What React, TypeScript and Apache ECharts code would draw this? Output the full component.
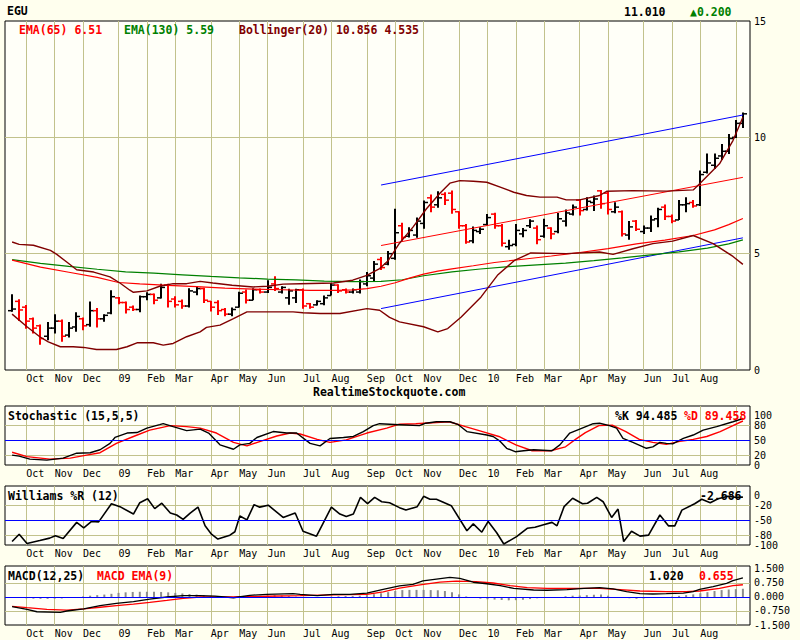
import React, { useEffect, useRef } from 'react';
import * as echarts from 'echarts';

// ---------- weekly categories ----------
const START_UTC = Date.UTC(2008, 8, 22); // Monday of first weekly bar
const WEEK_COUNT = 104;
const MONTH_NAMES = ['Jan', 'Feb', 'Mar', 'Apr', 'May', 'Jun', 'Jul', 'Aug', 'Sep', 'Oct', 'Nov', 'Dec'];

// ---------- price bars (weekly OHLC) ----------
const open = [2.55,2.95,2.70,2.20,1.90,1.45,1.80,2.10,1.50,1.85,2.20,1.95,2.55,2.20,2.45,3.10,2.90,2.70,2.60,3.15,3.25,3.10,3.65,3.05,2.95,2.75,3.35,3.50,2.95,2.90,2.60,2.40,2.70,3.35,3.00,3.45,3.35,3.70,3.35,3.10,3.10,3.45,2.85,2.80,2.85,3.20,3.65,3.45,3.35,3.35,3.70,3.95,4.75,4.55,4.80,6.20,5.75,5.80,6.30,7.40,7.10,7.55,7.60,6.80,6.20,5.55,5.95,6.25,6.70,6.20,5.30,5.40,5.85,6.20,6.10,5.75,6.10,5.95,6.40,6.70,7.30,6.90,7.20,7.70,7.60,6.80,6.80,5.80,6.40,5.95,6.10,6.50,7.00,6.60,6.45,7.10,7.20,7.10,8.50,8.80,9.20,9.40,10.00,10.60];
const high = [3.26,3.04,2.79,2.26,1.96,2.06,2.40,2.17,2.06,2.48,2.26,2.94,2.66,2.40,3.43,3.14,2.94,2.77,3.20,3.34,3.29,3.71,3.71,3.17,3.03,3.51,3.60,3.54,2.97,3.00,2.66,2.69,3.36,3.46,3.51,3.50,3.86,4.03,3.60,3.49,3.49,3.50,2.88,3.00,3.20,3.74,3.69,3.50,3.50,3.89,4.21,4.69,4.86,5.11,6.93,6.33,6.14,6.55,7.29,7.54,7.68,7.64,7.71,6.82,6.27,6.17,6.14,6.70,6.76,6.28,5.60,6.27,6.10,6.48,6.21,6.50,6.14,6.75,6.90,7.11,7.35,7.43,7.50,7.74,7.68,7.21,6.85,6.40,6.45,6.21,6.64,6.97,7.11,6.68,7.31,7.43,7.31,8.57,9.31,9.31,9.71,10.14,10.74,11.07];
const low = [2.50,2.11,1.77,1.57,1.08,1.28,1.57,1.21,1.40,1.64,1.71,1.86,1.83,2.07,2.40,2.83,2.43,2.54,2.48,3.00,2.83,3.07,2.69,2.69,2.63,2.69,3.21,2.88,2.51,2.36,2.31,2.31,2.69,2.86,3.00,3.29,3.31,3.40,3.29,2.80,2.88,2.63,2.63,2.77,2.78,3.20,3.31,3.29,3.29,3.29,3.60,3.83,4.30,4.50,4.74,5.55,5.70,5.68,6.07,6.78,6.97,7.09,6.72,6.07,5.43,5.45,5.84,6.21,6.07,5.31,5.17,5.32,5.71,6.10,5.40,5.68,5.62,5.88,6.17,6.64,6.64,6.85,6.83,6.93,6.68,6.74,5.74,5.60,5.97,5.85,5.93,6.14,6.45,6.31,6.45,6.78,6.97,7.05,8.45,8.64,9.03,9.28,9.97,10.40];
const close = [2.62,2.58,2.10,1.80,1.35,1.80,2.10,1.45,1.80,2.30,1.90,2.55,2.20,2.35,3.15,2.90,2.60,2.60,3.15,3.25,3.00,3.55,2.95,2.80,2.75,3.40,3.50,3.00,2.70,2.55,2.40,2.60,3.30,3.00,3.45,3.35,3.55,3.50,3.55,3.40,3.45,2.75,2.70,2.95,3.10,3.65,3.40,3.35,3.45,3.80,4.05,4.55,4.40,5.00,5.90,5.70,6.00,6.40,7.20,7.00,7.40,7.30,6.90,6.20,5.50,6.00,6.05,6.55,6.20,5.45,5.35,6.00,6.00,6.40,5.60,6.20,5.85,6.50,6.75,7.00,6.85,7.25,7.35,7.15,6.90,7.00,5.85,6.15,6.05,6.10,6.45,6.90,6.60,6.40,7.10,7.15,7.05,8.40,8.90,9.10,9.40,9.95,10.60,11.01];

// ---------- overlays: [week index, value] ----------
const ema65 = [[0,4.72],[4,4.42],[8,4.20],[12,3.98],[15,3.76],[18,3.70],[22,3.64],[26,3.58],[30,3.52],[34,3.48],[38,3.45],[42,3.42],[46,3.42],[48,3.44],[50,3.50],[52,3.60],[54,3.75],[56,3.95],[58,4.12],[60,4.25],[62,4.35],[65,4.48],[68,4.62],[72,4.76],[76,4.90],[80,5.05],[84,5.22],[88,5.42],[92,5.58],[96,5.78],[99,6.02],[101,6.25],[103,6.51]];
const ema130 = [[0,4.74],[4,4.58],[8,4.45],[12,4.33],[16,4.22],[20,4.16],[24,4.09],[28,4.02],[32,3.96],[36,3.91],[40,3.87],[44,3.82],[48,3.80],[52,3.81],[55,3.88],[58,4.05],[62,4.22],[66,4.34],[70,4.44],[74,4.52],[78,4.59],[82,4.70],[86,4.82],[90,4.95],[94,5.08],[98,5.24],[101,5.42],[103,5.59]];
const bbUpper = [[0,5.5],[1,5.4],[3,5.36],[5.4,5.14],[6.3,4.97],[7.7,4.64],[9.1,4.31],[11.5,4.21],[13.8,4.0],[15.2,3.74],[16.6,3.43],[17.1,3.34],[19,3.4],[20.8,3.6],[22.7,3.71],[24.6,3.71],[26.5,3.81],[28.3,3.74],[31,3.64],[34,3.57],[36,3.6],[38.2,3.69],[40.6,3.71],[45.3,3.74],[48,3.86],[50,4.07],[51.8,4.36],[53,4.7],[54.6,5.45],[56.5,6.14],[58.4,6.93],[60.3,7.6],[61.7,8.03],[63.1,8.14],[65,8.11],[66.9,8.07],[68.8,7.86],[70.7,7.64],[72.5,7.5],[74.4,7.43],[76.8,7.43],[78.1,7.31],[80,7.31],[82.8,7.5],[83.8,7.68],[87.5,7.71],[92.2,7.69],[96,7.74],[96.9,8.0],[99.7,8.86],[101.6,9.86],[103,10.86]];
const bbLower = [[0,2.4],[2.1,1.86],[3.9,1.43],[5.1,1.21],[6.8,1.0],[8.6,1.0],[10.1,0.97],[11.9,0.88],[14.7,0.88],[16.2,1.0],[17.6,1.17],[19.9,1.17],[21.3,1.07],[22.7,1.14],[24.6,1.43],[26.5,1.64],[27.4,1.83],[29.3,1.93],[31.2,2.21],[33.1,2.5],[35.9,2.5],[39.6,2.5],[41,2.46],[43.4,2.43],[46.2,2.43],[50,2.64],[51.8,2.57],[53.2,2.26],[54.6,2.07],[58,1.86],[60,1.64],[61.4,1.78],[63.3,2.28],[66.1,3.14],[68.4,4.07],[70.8,4.71],[73.1,5.03],[78.1,5.0],[82.8,5.07],[84.7,4.97],[87.5,5.21],[90.3,5.43],[93.1,5.54],[96,5.78],[98.8,5.43],[101.6,4.88],[103,4.54]];
const channelUpper = [[52,7.95],[103,10.96]];
const channelMid = [[52,5.35],[103,8.28]];
const channelLower = [[52,2.64],[103,5.68]];

const stochK = [[0,20],[1,18],[2.5,12],[4.9,10],[7.2,14],[9.1,24],[11,25],[12.4,31],[13.8,44],[14.5,56],[16.2,65],[17.6,66],[19,75],[20.8,82],[21.3,84],[22.7,78],[24.6,70],[26.5,73],[27.7,65],[29.3,41],[31.2,32],[32.1,41],[33.5,44],[34.5,56],[36.8,68],[38.7,65],[40.1,65],[42,44],[43.4,39],[44.8,54],[46.7,56],[48.1,58],[49.5,68],[50.9,80],[51.8,84],[54.6,82],[57.4,80],[58.3,85],[59.8,88],[61.7,88],[62.9,82],[64.1,68],[66.9,61],[67.8,58],[68.8,48],[69.7,34],[70.9,27],[72.1,29],[73.5,31],[76.1,29],[77.2,41],[78.6,65],[80,73],[81.9,84],[82.8,85],[84.2,80],[85.2,75],[86.1,54],[87.5,46],[89.4,34],[90.3,37],[91.3,46],[92.2,44],[93.1,43],[94.6,54],[96,61],[97.4,71],[99.3,78],[101.6,88],[103,94.5]];
const stochD = [[0,26],[2.1,17],[5.3,12],[8.2,14],[10.5,20],[12.4,25],[14.7,44],[17.1,58],[19.4,71],[22.3,80],[24.6,78],[26.5,75],[28.8,65],[31.2,46],[33.1,39],[35,48],[37.3,59],[39.2,65],[40.6,63],[43,52],[44.8,46],[47.1,51],[50,65],[52.8,75],[54.6,83],[56.9,84],[59.2,86],[61.6,88],[63.9,78],[66.3,68],[68.6,58],[71,41],[73.3,29],[75.9,29],[78,37],[79.4,52],[80.8,66],[82.7,80],[84.6,81],[86.5,68],[88.4,52],[90.3,46],[92.2,42],[94.1,48],[96,52],[97.9,58],[99.8,68],[101.6,80],[103,89.5]];
const williamsR = [[0,-93],[1,-78],[2.1,-97],[3.9,-91],[5.3,-86],[6.1,-81],[7.2,-87],[9.1,-54],[10.1,-65],[11.2,-52],[12.2,-53],[14,-16],[15.2,-22],[17.1,-37],[18,-14],[19.1,-6],[20.1,-26],[21.1,-15],[22.3,-35],[23.2,-39],[24.1,-48],[25.1,-35],[26.2,-23],[27.2,-61],[28.1,-78],[29,-88],[30.7,-80],[31.4,-73],[32.1,-41],[33.1,-49],[34.1,-18],[34.9,-23],[36.1,-19],[38.2,-44],[39.9,-35],[41,-72],[42.9,-82],[43.9,-54],[45,-23],[46.2,-37],[47.1,-42],[48.1,-37],[49.1,-3],[50.1,-16],[51.1,-3],[52.1,-12],[53.2,-14],[54.6,-24],[55.5,-29],[57.1,-22],[58,-1],[58.9,-7],[59.8,-7],[61.9,-20],[64.1,-71],[65,-57],[66.2,-74],[67.1,-52],[68.3,-75],[69.3,-98],[71.1,-83],[72.6,-66],[73.7,-64],[74.9,-59],[76.1,-54],[76.8,-61],[77.8,-22],[79,-5],[80.4,-16],[81.1,-15],[82.4,-3],[83.3,-12],[84.5,-44],[85.4,-27],[86.2,-93],[87.3,-72],[88.5,-82],[89.7,-80],[91.3,-39],[92.5,-61],[93.4,-61],[94.4,-29],[96.2,-16],[97.2,-7],[98.4,-14],[99.5,-6],[100.9,-1],[101.9,-3],[103,-2.7]];
const macdLine = [[0,-0.52],[2.1,-0.66],[3.5,-0.79],[6.8,-0.82],[7.7,-0.75],[10.1,-0.64],[12.4,-0.46],[14.7,-0.34],[17.1,-0.25],[19.4,-0.11],[21.8,0],[24.1,0.07],[26.5,0.07],[28.6,0.05],[31.2,-0.04],[33.5,0.09],[35.9,0.14],[39.6,0.18],[40.6,0.14],[43,0.07],[45.3,0.14],[47.6,0.14],[50,0.21],[52.3,0.41],[54.6,0.6],[56.5,0.68],[57.9,0.86],[59.8,0.96],[61.7,1.05],[63.1,1.0],[65,0.79],[66.9,0.71],[68.8,0.61],[70.7,0.46],[73.5,0.375],[75.4,0.36],[78.2,0.39],[80.6,0.46],[82.8,0.5],[84.7,0.43],[86.6,0.29],[88.5,0.18],[90.3,0.16],[92.2,0.18],[94.6,0.21],[96,0.29],[96.9,0.41],[98.8,0.55],[100.7,0.73],[101.6,0.875],[103,1.02]];
const macdSignal = [[0,-0.5],[2.1,-0.57],[4.9,-0.66],[7.7,-0.7],[10.1,-0.64],[12.4,-0.55],[14.7,-0.46],[17.1,-0.38],[19.4,-0.29],[21.8,-0.18],[24.1,-0.07],[26.5,0],[31.2,0],[35.9,0.04],[40.6,0.07],[45.3,0.11],[50,0.14],[52.3,0.27],[54.6,0.47],[57.5,0.65],[60.3,0.8],[62.6,0.85],[65.4,0.82],[67.8,0.75],[70.2,0.61],[72.6,0.5],[75.4,0.46],[79.1,0.46],[82.8,0.46],[85.7,0.39],[88.5,0.32],[92.2,0.29],[95,0.29],[96.9,0.32],[99.7,0.46],[101.6,0.61],[103,0.655]];
const macdHist = [-0.03,-0.05,-0.07,-0.09,-0.10,-0.10,-0.09,-0.08,-0.05,-0.02,0.03,0.07,0.10,0.13,0.17,0.22,0.25,0.27,0.28,0.28,0.28,0.27,0.25,0.22,0.19,0.16,0.13,0.10,0.07,0.03,-0.02,-0.03,0.02,0.04,0.06,0.07,0.09,0.10,0.08,0.05,0.02,-0.02,-0.05,-0.05,-0.02,0.02,0.04,0.05,0.05,0.07,0.10,0.15,0.20,0.26,0.32,0.37,0.38,0.38,0.38,0.37,0.36,0.32,0.25,0.14,0.03,-0.04,-0.09,-0.12,-0.14,-0.16,-0.18,-0.17,-0.15,-0.11,-0.07,-0.04,-0.02,0.00,0.04,0.07,0.08,0.10,0.12,0.13,0.07,0.00,-0.04,-0.07,-0.10,-0.08,-0.05,-0.04,-0.02,0.02,0.06,0.10,0.14,0.20,0.26,0.32,0.37,0.40,0.42,0.44];

// ---------- axis ticks ----------
const mainTicks = [0, 5, 10, 15];
const stochLabels = [0, 20, 50, 80, 100];
const stochGrid = [20, 80];
const willLabels = [-100, -80, -50, -20, 0];
const willGrid = [-80, -20];
const macdLabels = [-1.5, -0.75, 0, 0.75, 1.5];
const macdGrid = [-0.75, 0.75];

const OUTER_BG = '#FFFFEE';
const PLOT_BG = '#FFFFF8';
const GRID_C = '#C2C28C';
const FONT = '"DejaVu Sans Mono", "Liberation Mono", monospace';
const BOLD = 'bold 11.5px ' + FONT;

const weekDates = Array.from({ length: WEEK_COUNT }, (_, i) => new Date(START_UTC + i * 7 * 86400000));
const monthStarts = weekDates.map((d, i) => (d.getUTCDate() <= 7 ? i : -1)).filter((i) => i >= 0);
const labelWeeks = monthStarts.filter((i) => i <= WEEK_COUNT - 4);
const monthText = (i: number) => {
  const d = weekDates[i];
  if (!d) return '';
  return d.getUTCMonth() === 0 ? String(d.getUTCFullYear()).slice(2) : MONTH_NAMES[d.getUTCMonth()];
};

const headerTexts = [
  { x: 7, y: 11, t: 'EGU', c: '#000000' },
  { x: 624, y: 12, t: '11.010', c: '#000000' },
  { x: 690, y: 12, t: '▲0.200', c: '#008000' },
  { x: 19, y: 30, t: 'EMA(65) 6.51', c: '#FF0000' },
  { x: 124, y: 30, t: 'EMA(130) 5.59', c: '#008000' },
  { x: 239, y: 30, t: 'Bollinger(20) 10.856 4.535', c: '#800000' },
  { x: 313, y: 392, t: 'RealtimeStockquote.com', c: '#000000' },
  { x: 8, y: 416, t: 'Stochastic (15,5,5)', c: '#000000' },
  { x: 615, y: 416, t: '%K 94.485', c: '#000000' },
  { x: 684, y: 416, t: '%D 89.458', c: '#FF0000' },
  { x: 8, y: 496, t: 'Williams %R (12)', c: '#000000' },
  { x: 700, y: 496, t: '-2.686', c: '#000000' },
  { x: 8, y: 576, t: 'MACD(12,25)', c: '#000000' },
  { x: 97, y: 576, t: 'MACD EMA(9)', c: '#FF0000' },
  { x: 649, y: 576, t: '1.020', c: '#000000' },
  { x: 699, y: 576, t: '0.655', c: '#FF0000' },
];

function buildOption(): any {
  const grids = [
    { top: 21, height: 349 },
    { top: 406, height: 59 },
    { top: 486, height: 59 },
    { top: 566, height: 59 },
  ].map((g) => ({
    left: 5,
    width: 745,
    top: g.top,
    height: g.height,
    show: true,
    backgroundColor: PLOT_BG,
    borderColor: '#000',
    borderWidth: 1,
    containLabel: false,
  }));

  const xAxes = grids.map((_, k) => ({
    gridIndex: k,
    type: 'value',
    min: -1,
    max: WEEK_COUNT,
    axisLine: { show: false },
    axisTick: { show: false, customValues: monthStarts },
    axisLabel: {
      customValues: labelWeeks,
      formatter: (v: number) => monthText(Math.round(v)),
      align: 'left',
      margin: 3,
      fontFamily: FONT,
      fontSize: 10,
      color: '#000',
    },
    splitLine: { show: true, lineStyle: { color: GRID_C, width: 1 } },
  }));

  const yBase = (k: number, min: number, max: number, labels: number[], gridVals: number[], fmt?: (v: number) => string) => ({
    gridIndex: k,
    type: 'value',
    position: 'right',
    min,
    max,
    axisLine: { show: false },
    axisTick: { show: false, customValues: gridVals },
    axisLabel: {
      customValues: labels,
      formatter: fmt || ((v: number) => String(v)),
      margin: 4,
      fontFamily: FONT,
      fontSize: 10,
      color: '#000',
      showMinLabel: true,
      showMaxLabel: true,
    },
    splitLine: { show: true, lineStyle: { color: GRID_C, width: 1 } },
  });

  const yAxes = [
    yBase(0, 0, 15, mainTicks, [5, 10]),
    yBase(1, 0, 120, stochLabels, stochGrid),
    yBase(2, -100, 20, willLabels, willGrid),
    yBase(3, -1.5, 1.66, macdLabels, macdGrid, (v: number) => v.toFixed(3)),
  ];

  const line = (k: number, data: number[][], color: string, width = 1, extra: any = {}) => ({
    type: 'line',
    xAxisIndex: k,
    yAxisIndex: k,
    data,
    symbol: 'none',
    showSymbol: false,
    smooth: false,
    lineStyle: { color, width },
    silent: true,
    ...extra,
  });

  const blueLine = (v: number) => ({
    silent: true,
    symbol: 'none',
    label: { show: false },
    lineStyle: { color: '#0000FF', width: 1, type: 'solid' },
    data: [{ yAxis: v }],
  });

  const ohlcData = open.map((o, i) => [i, o, high[i], low[i], close[i]]);

  const series: any[] = [
    line(0, channelUpper, '#0000FF', 1),
    line(0, channelMid, '#FF0000', 1),
    line(0, channelLower, '#0000FF', 1),
    line(0, ema130, '#008000', 1.2),
    line(0, ema65, '#FF0000', 1.2),
    {
      type: 'custom',
      xAxisIndex: 0,
      yAxisIndex: 0,
      data: ohlcData,
      encode: { x: 0, y: [1, 2, 3, 4] },
      silent: true,
      renderItem: (_params: any, api: any) => {
        const i = api.value(0);
        const o = api.coord([i, api.value(1)]);
        const h = api.coord([i, api.value(2)]);
        const l = api.coord([i, api.value(3)]);
        const c = api.coord([i, api.value(4)]);
        const color = api.value(4) >= api.value(1) ? '#000000' : '#FF0000';
        const x = Math.round(h[0]);
        return {
          type: 'group',
          children: [
            { type: 'line', shape: { x1: x, y1: h[1], x2: x, y2: l[1] }, style: { stroke: color, lineWidth: 2 } },
            { type: 'line', shape: { x1: x - 4, y1: o[1], x2: x, y2: o[1] }, style: { stroke: color, lineWidth: 1.5 } },
            { type: 'line', shape: { x1: x, y1: c[1], x2: x + 4, y2: c[1] }, style: { stroke: color, lineWidth: 1.5 } },
          ],
        };
      },
    },
    line(0, bbUpper, '#800000', 1.4),
    line(0, bbLower, '#800000', 1.4),

    line(1, stochD, '#FF0000', 1.4, { markLine: blueLine(50) }),
    line(1, stochK, '#000000', 1.4),

    line(2, williamsR, '#000000', 1.6, { markLine: blueLine(-50) }),

    {
      type: 'bar',
      xAxisIndex: 3,
      yAxisIndex: 3,
      data: macdHist.map((v, i) => [i, v]),
      barWidth: 2,
      itemStyle: { color: '#8C8C8C' },
      silent: true,
      markLine: blueLine(0),
    },
    line(3, macdSignal, '#FF0000', 1.3),
    line(3, macdLine, '#000000', 1.3),
  ];

  const graphic = headerTexts.map((t) => ({
    type: 'text',
    x: t.x,
    y: t.y,
    z: 100,
    silent: true,
    style: {
      text: t.t,
      fill: t.c,
      font: BOLD,
      textAlign: 'left',
      textVerticalAlign: 'middle',
      align: 'left',
      verticalAlign: 'middle',
    },
  }));

  return {
    animation: false,
    backgroundColor: OUTER_BG,
    grid: grids,
    xAxis: xAxes,
    yAxis: yAxes,
    series,
    graphic,
  };
}

export default function App() {
  const ref = useRef<HTMLDivElement>(null);
  useEffect(() => {
    if (!ref.current) return;
    const chart = echarts.init(ref.current, undefined, { renderer: 'svg' });
    chart.setOption(buildOption());
    return () => chart.dispose();
  }, []);
  return (
    <div
      ref={ref}
      style={{ position: 'fixed', left: 0, top: 0, width: 800, height: 640, background: OUTER_BG }}
    />
  );
}
